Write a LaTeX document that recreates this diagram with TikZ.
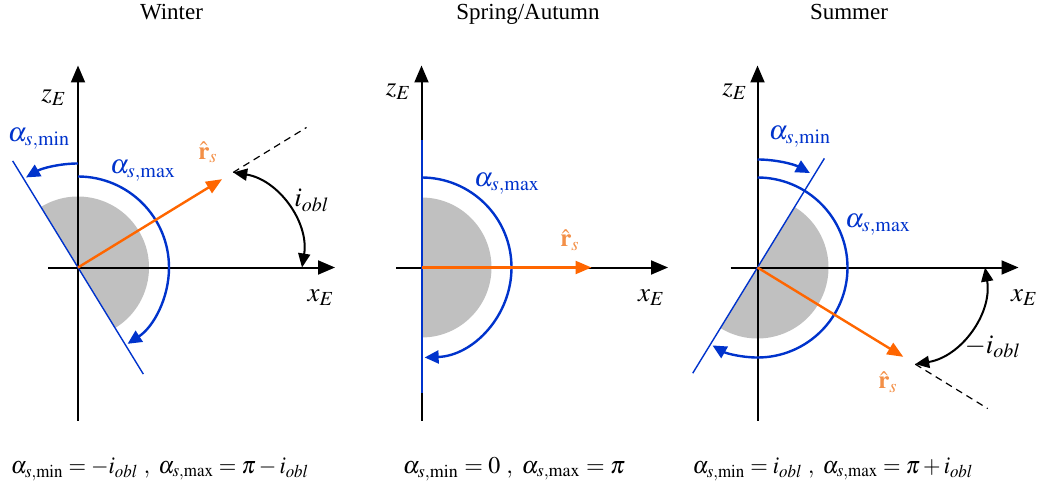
\documentclass[tikz,border=0pt]{standalone}
\usepackage{mathptmx}
\usepackage[no-math]{fontspec}
\setmainfont{Liberation Serif}
\usetikzlibrary{arrows.meta}
\definecolor{sunorange}{RGB}{255,102,0}
\definecolor{sunlabel}{RGB}{243,144,72}
\definecolor{rangeblue}{RGB}{0,51,204}
\definecolor{earthgray}{RGB}{192,192,192}
\begin{document}
\begin{tikzpicture}[x=0.5pt, y=0.5pt,
    axisln/.style={line width=1pt, -{Triangle[length=8.5pt,width=7pt]}},
    term/.style={rangeblue, line width=0.7pt},
    sweep/.style={rangeblue, line width=1.2pt, -{Triangle[length=7pt,width=6.5pt]}},
    sunvec/.style={sunorange, line width=1.2pt, -{Triangle[length=8pt,width=6.5pt]}},
    ext/.style={line width=0.6pt, dash pattern=on 3.5pt off 2.5pt},
    obl/.style={line width=1pt, {Triangle[length=7pt,width=6pt]}-{Triangle[length=7pt,width=6pt]}},
    earth/.style={fill=earthgray},
    ttl/.style={font=\fontsize{11.5}{13}\selectfont, anchor=base},
    lbl/.style={font=\fontsize{13.5}{16}\selectfont, inner sep=0pt},
    sml/.style={font=\fontsize{12.5}{15}\selectfont, inner sep=0pt},
    eq/.style={font=\fontsize{12}{14}\selectfont, anchor=base, inner sep=0pt}]
  \useasboundingbox (0,0) rectangle (1037,493);
  % titles
  \node[ttl] (ttlW) at (171.5,473) {Winter};
  \node[ttl] (ttlS) at (528,473) {Spring/Autumn};
  \node[ttl] (ttlU) at (849,473) {Summer};
  % winter
  \begin{scope}[shift={(78,225.5)}]
    \fill[earth] (0,0) -- (-58.5:71) arc[start angle=-58.5, end angle=121.5, radius=71] -- cycle;
    \draw[axisln] (-30,0) -- (257,0);
    \draw[axisln] (0,-153) -- (0,202);
    \draw[term] (121.5:125) -- (-58.5:125);
    \draw[sweep] (90:104) arc[start angle=90, end angle=120, radius=104];
    \draw[sweep] (90:91) arc[start angle=90, end angle=-57, radius=91];
    \draw[sunvec] (0,0) -- (31.5:169);
    \draw[ext] (31.5:182) -- (31.5:268);
    \draw[obl] (31.5:182) to[bend left=45] (224,0);
    \node[lbl] (zW) at (-24,170) {$z_E$};
    \node[lbl] (xW) at (243,-30) {$x_E$};
    \node[lbl, text=rangeblue] (aminW) at (-39,129) {$\alpha_{s,\mathrm{min}}$};
    \node[lbl, text=rangeblue] (amaxW) at (65,97) {$\alpha_{s,\mathrm{max}}$};
    \node[sml, text=sunlabel] (rW) at (130,115) {$\hat{\mathbf{r}}_s$};
    \node[lbl] (iW) at (234,67) {$i_{obl}$};
  \end{scope}
  % spring / autumn
  \begin{scope}[shift={(421.5,225.5)}]
    \fill[earth] (0,0) -- (-90:70) arc[start angle=-90, end angle=90, radius=70] -- cycle;
    \draw[axisln] (-25.5,0) -- (246.5,0);
    \draw[axisln] (0,-153) -- (0,202);
    \draw[term, line width=1pt] (0,127) -- (0,-125);
    \draw[sweep] (90:90) arc[start angle=90, end angle=-88, radius=90];
    \draw[sunvec] (0,0) -- (170,0);
    \node[lbl] (zS) at (-23,176) {$z_E$};
    \node[lbl] (xS) at (230,-30) {$x_E$};
    \node[lbl, text=rangeblue] (amaxS) at (85.5,83.5) {$\alpha_{s,\mathrm{max}}$};
    \node[sml, text=sunlabel] (rS) at (148.5,27.5) {$\hat{\mathbf{r}}_s$};
  \end{scope}
  % summer
  \begin{scope}[shift={(757.5,225.5)}]
    \fill[earth] (0,0) -- (-121.5:71) arc[start angle=-121.5, end angle=58.5, radius=71] -- cycle;
    \draw[axisln] (-27,0) -- (261,0);
    \draw[axisln] (0,-153) -- (0,202);
    \draw[term] (58.5:128) -- (238.5:124);
    \draw[sweep] (90:108) arc[start angle=90, end angle=61, radius=108];
    \draw[sweep] (90:90) arc[start angle=90, end angle=-120, radius=90];
    \draw[sunvec] (0,0) -- (-31.5:171);
    \draw[ext] (-31.5:185) -- (-31.5:270);
    \draw[obl] (-31.5:185) to[bend right=45] (227.5,0);
    \node[lbl] (zU) at (-22.5,176) {$z_E$};
    \node[lbl] (xU) at (267,-30) {$x_E$};
    \node[lbl, text=rangeblue] (aminU) at (42.5,130.5) {$\alpha_{s,\mathrm{min}}$};
    \node[lbl, text=rangeblue] (amaxU) at (120.5,42.5) {$\alpha_{s,\mathrm{max}}$};
    \node[sml, text=sunlabel] (rU) at (130.5,-114.5) {$\hat{\mathbf{r}}_s$};
    \node[lbl] (iU) at (235.5,-79.5) {$-i_{obl}$};
  \end{scope}
  % ranges
  \node[eq] (eqW) at (160,20) {\scalebox{0.94}[1]{$\alpha_{s,\mathrm{min}} = -i_{obl}\ ,\ \alpha_{s,\mathrm{max}} = \pi - i_{obl}$}};
  \node[eq] (eqS) at (514,20) {$\alpha_{s,\mathrm{min}} = 0\ ,\ \alpha_{s,\mathrm{max}} = \pi$};
  \node[eq] (eqU) at (833,20) {\scalebox{0.94}[1]{$\alpha_{s,\mathrm{min}} = i_{obl}\ ,\ \alpha_{s,\mathrm{max}} = \pi + i_{obl}$}};
\end{tikzpicture}
\end{document}
